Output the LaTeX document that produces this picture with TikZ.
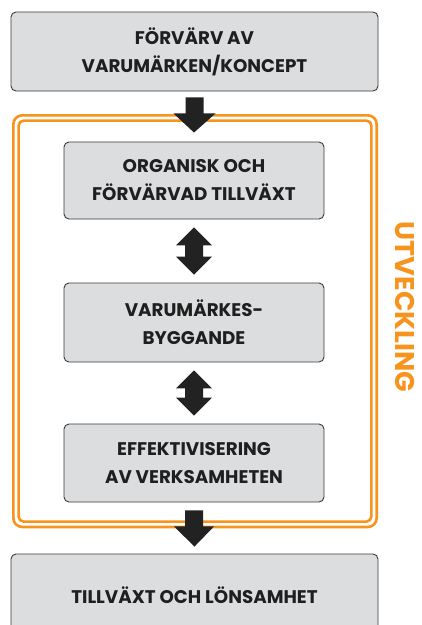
\documentclass[tikz,border=0pt]{standalone}
\usepackage{fontspec}
\setmainfont{Poppins}
\usetikzlibrary{calc}
\definecolor{boxfill}{HTML}{DCDDDF}
\definecolor{boxline}{HTML}{3A3A3A}
\definecolor{orng}{HTML}{F7941D}
\definecolor{arr}{HTML}{222222}
\tikzset{
  stagebox/.style={draw=boxline, line width=0.9pt, fill=boxfill, rounded corners=5pt,
    align=center, font=\fontsize{18.3}{28}\selectfont\bfseries, text=black!88,
    inner sep=0pt},
  blockarrow/.style={fill=arr, draw=none},
  frameline/.style={draw=orng, line width=2.6pt},
}
\begin{document}
\begin{tikzpicture}[x=1pt,y=-1pt]
\clip (0,0) rectangle (422,625);
\fill[white] (0,0) rectangle (422,625);
% orange frame
\draw[frameline, rounded corners=9pt] (13.3,115.3) rectangle (376.7,527);
\draw[frameline, rounded corners=5pt] (18.6,120.6) rectangle (371.4,521.6);
% boxes
\node[stagebox, minimum width=367pt, minimum height=79pt] (b1) at (194.5,51.5) {FÖRVÄRV AV\\VARUMÄRKEN/KONCEPT};
\node[stagebox, minimum width=260pt, minimum height=77pt] (b2) at (194,180.5) {ORGANISK OCH\\FÖRVÄRVAD TILLVÄXT};
\node[stagebox, minimum width=260pt, minimum height=79pt] (b3) at (194,322.5) {VARUMÄRKES-\\BYGGANDE};
\node[stagebox, minimum width=260pt, minimum height=78pt] (b4) at (194,463) {EFFEKTIVISERING\\AV VERKSAMHETEN};
\node[stagebox, minimum width=367pt, minimum height=82pt] (b5) at (194.5,595) {TILLVÄXT OCH LÖNSAMHET};
% arrows
\fill[blockarrow] ($(b1.south)+(-9,6)$) -- ($(b1.south)+(9,6)$) -- ($(b1.south)+(9,22)$) -- ($(b1.south)+(21,22)$)
  -- ($(b2.north)+(0,-9)$) -- ($(b1.south)+(-21,22)$) -- ($(b1.south)+(-9,22)$) -- cycle;
\foreach \a/\b in {b2/b3, b3/b4}{
  \fill[blockarrow] ($(\a.south)+(0,8)$) -- ($(\a.south)+(18,26)$) -- ($(\a.south)+(9,26)$)
    -- ($(\b.north)+(9,-26)$) -- ($(\b.north)+(18,-26)$) -- ($(\b.north)+(0,-8)$)
    -- ($(\b.north)+(-18,-26)$) -- ($(\b.north)+(-9,-26)$) -- ($(\a.south)+(-9,26)$)
    -- ($(\a.south)+(-18,26)$) -- cycle;
}
\fill[blockarrow] ($(b4.south)+(-9,8)$) -- ($(b4.south)+(9,8)$) -- ($(b4.south)+(9,24)$) -- ($(b4.south)+(20,24)$)
  -- ($(b5.north)+(0,-7)$) -- ($(b4.south)+(-20,24)$) -- ($(b4.south)+(-9,24)$) -- cycle;
% side label
\node[rotate=-90, text=orng, font=\fontsize{27}{27}\selectfont\bfseries, inner sep=0pt] (lbl) at (405,307) {UTVECKLING};
\end{tikzpicture}
\end{document}
